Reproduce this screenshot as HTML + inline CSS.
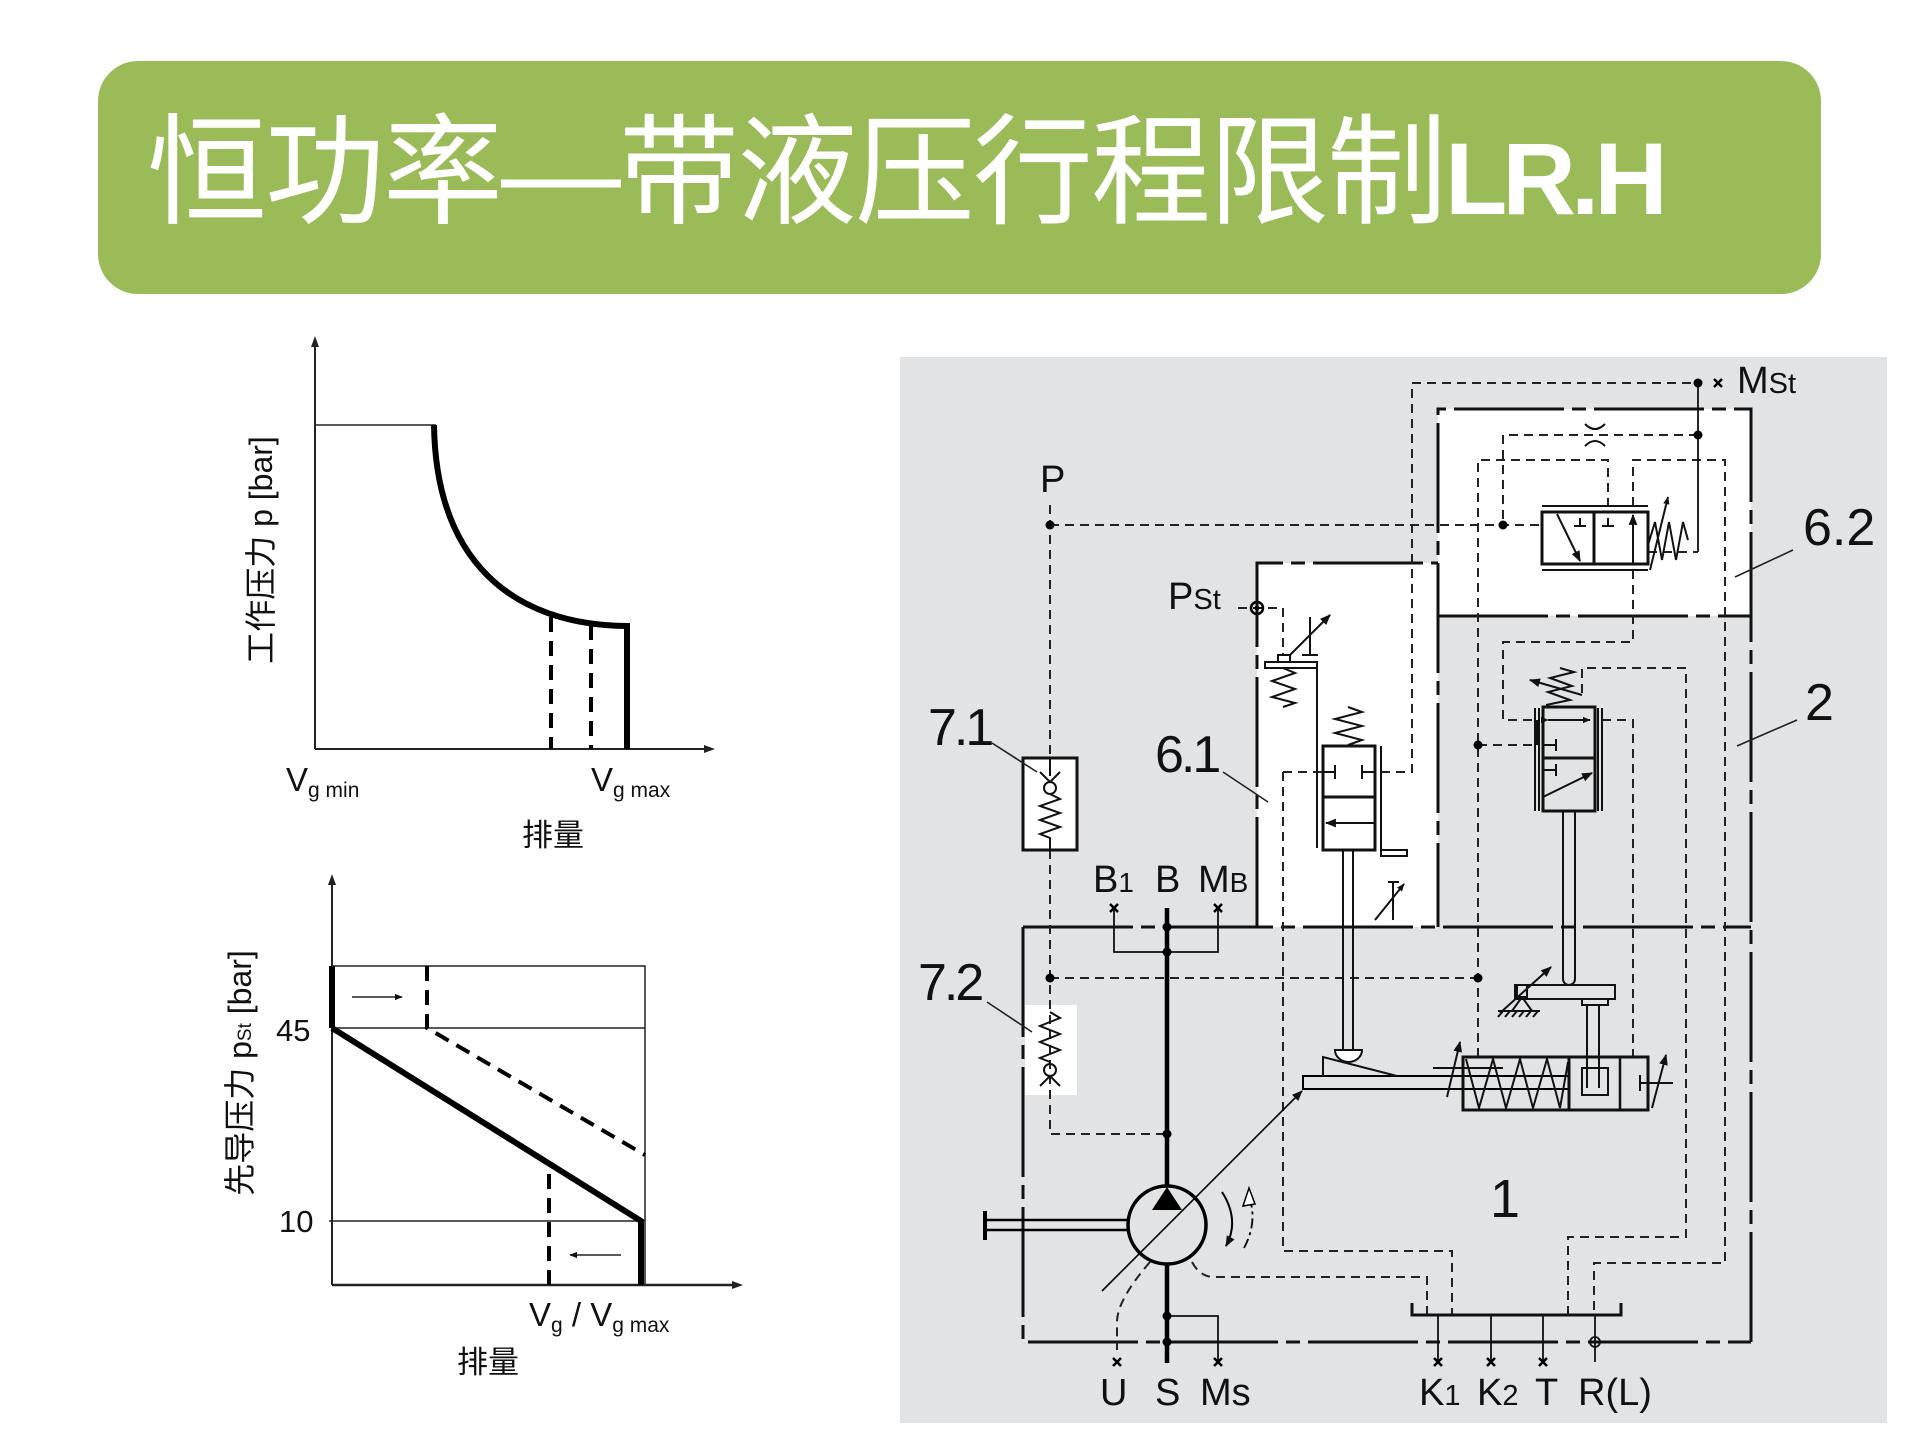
<!DOCTYPE html>
<html><head><meta charset="utf-8"><style>
html,body{margin:0;padding:0;background:#fff;}
body{width:1920px;height:1440px;position:relative;overflow:hidden;}
.tb{position:absolute;left:98px;top:61px;width:1723px;height:233px;background:#9bbb59;border-radius:40px;}
.tt{position:absolute;left:147px;top:113px;font-family:"Liberation Sans","Noto Sans CJK SC",sans-serif;font-size:120px;line-height:1;color:#fff;letter-spacing:-2px;white-space:nowrap;}
.tt span{font-size:102px;letter-spacing:-5px;font-weight:bold;}
svg text{font-family:"Liberation Sans","Noto Sans CJK SC",sans-serif;fill:#111;}
</style></head><body>
<div class="tb"></div>
<div class="tt">恒功率—带液压行程限制<span>LR.H</span></div>
<svg width="1920" height="1440" style="position:absolute;left:0;top:0" xmlns="http://www.w3.org/2000/svg">
<defs>
<marker id="ah" viewBox="0 0 10 10" refX="9" refY="5" markerWidth="11" markerHeight="11" markerUnits="userSpaceOnUse" orient="auto"><path d="M0,1 L10,5 L0,9z" fill="#111"/></marker>
<marker id="ahs" viewBox="0 0 10 10" refX="9" refY="5" markerWidth="8" markerHeight="8" markerUnits="userSpaceOnUse" orient="auto"><path d="M0,1 L10,5 L0,9z" fill="#111"/></marker>
</defs>

<!-- ===== Chart 1 ===== -->
<g stroke="#222" fill="none">
<line x1="315" y1="345" x2="315" y2="749" stroke-width="2"/>
<path d="M315,336 L311,347 L319,347z" fill="#222" stroke="none"/>
<line x1="315" y1="749" x2="706" y2="749" stroke-width="2"/>
<path d="M715,749 L704,745 L704,753z" fill="#222" stroke="none"/>
<line x1="315" y1="425" x2="436" y2="425" stroke-width="1.5"/>
<path d="M434,425 C436,560 511,625 627,626 L627,749" stroke="#000" stroke-width="6"/>
<line x1="551" y1="617" x2="551" y2="749" stroke="#000" stroke-width="4" stroke-dasharray="15 9"/>
<line x1="591" y1="625" x2="591" y2="749" stroke="#000" stroke-width="4" stroke-dasharray="15 9"/>
</g>
<text x="286" y="791" font-size="33">V<tspan font-size="21" dy="6">g min</tspan></text>
<text x="591" y="791" font-size="33">V<tspan font-size="21" dy="6">g max</tspan></text>
<text x="522" y="846" font-size="31">排量</text>
<text transform="translate(261,550) rotate(-90)" text-anchor="middle" y="11" font-size="32">工作压力 p [bar]</text>

<!-- ===== Chart 2 ===== -->
<g stroke="#222" fill="none">
<line x1="332" y1="883" x2="332" y2="1285" stroke-width="2"/>
<path d="M332,874 L328,885 L336,885z" fill="#222" stroke="none"/>
<line x1="332" y1="1285" x2="734" y2="1285" stroke-width="2.5"/>
<path d="M743,1285 L732,1281 L732,1289z" fill="#222" stroke="none"/>
<polyline points="332,966 645,966 645,1285" stroke-width="1.5"/>
<line x1="332" y1="1028" x2="645" y2="1028" stroke-width="1.5"/>
<line x1="329" y1="1221" x2="645" y2="1221" stroke-width="1.5"/>
<line x1="332" y1="966" x2="332" y2="1028" stroke="#000" stroke-width="6"/>
<polyline points="332,1028 641,1221 641,1285" stroke="#000" stroke-width="6"/>
<polyline points="427,966 427,1028 645,1155" stroke="#000" stroke-width="4" stroke-dasharray="15 9"/>
<line x1="549" y1="1174" x2="549" y2="1285" stroke="#000" stroke-width="4" stroke-dasharray="15 9"/>
<line x1="352" y1="997" x2="402" y2="997" stroke-width="1.5" marker-end="url(#ahs)"/>
<line x1="621" y1="1255" x2="570" y2="1255" stroke-width="1.5" marker-end="url(#ahs)"/>
</g>
<text x="276" y="1041" font-size="31">45</text>
<text x="279" y="1232" font-size="31">10</text>
<text x="529" y="1326" font-size="33">V<tspan font-size="21" dy="6">g</tspan><tspan dy="-6"> / V</tspan><tspan font-size="21" dy="6">g max</tspan></text>
<text x="457" y="1373" font-size="31">排量</text>
<text transform="translate(240,1073) rotate(-90)" text-anchor="middle" y="11" font-size="32">先导压力 p<tspan font-size="19">St</tspan> [bar]</text>

<!-- ===== Schematic ===== -->
<rect x="900" y="357" width="987" height="1066" fill="#e2e3e5"/>
<rect x="1257" y="563" width="181" height="364" fill="#fff"/>
<rect x="1438" y="409" width="313" height="207" fill="#fff"/>
<rect x="1025" y="1005" width="52" height="90" fill="#fff"/>

<!-- housing lines -->
<g stroke="#111" stroke-width="3" fill="none" stroke-dasharray="110 8 14 8">
<path d="M1023,927 L1023,1342 L1751,1342"/>
<path d="M1751,1342 L1751,409 L1438,409 L1438,927"/>
<path d="M1023,927 L1751,927"/>
<path d="M1438,616 L1751,616"/>
<path d="M1257,927 L1257,563 L1438,563"/>
</g>

<!-- pilot dashed lines -->
<g stroke="#222" stroke-width="2" fill="none" stroke-dasharray="9 6">
<path d="M1050,505 V1134 H1167"/>
<path d="M1050,525 H1542"/>
<path d="M1381,772 H1412 V383 H1698"/>
<path d="M1283,772 H1323"/>
<path d="M1238,608 H1283 V657"/>
<path d="M1698,435 H1503 V525"/>
<path d="M1648,552 H1698"/>
<path d="M1478,1057 V460 H1608 V506"/>
<path d="M1633,506 V460 H1725 V1263 H1594 V1315"/>
<path d="M1633,570 V642 H1503 V720 H1535"/>
<path d="M1602,720 H1633 V1057"/>
<path d="M1582,693 V668 H1686 V1237 H1568 V1315"/>
<path d="M1283,772 V1251 H1452 V1315"/>
<path d="M1192,1262 Q1200,1277 1214,1277 H1427 V1315"/>
<path d="M1050,978 H1478"/>
<path d="M1478,745 H1535"/>
<path d="M1150,1262 Q1117,1300 1117,1322 V1350"/>
</g>

<!-- 7.1 box -->
<rect x="1023" y="758" width="54" height="92" fill="#fff" stroke="#111" stroke-width="3"/>
<g stroke="#111" stroke-width="2" fill="none">
<line x1="1050" y1="758" x2="1050" y2="776"/>
<path d="M1040,772 L1050,782 L1060,772"/>
<circle cx="1050" cy="788" r="6"/>
<polyline points="1050,794 1060,799 1040,806 1060,813 1040,820 1060,827 1040,834 1050,838 1050,850"/>
<!-- 7.2 -->
<polyline points="1050,1012 1060,1018 1040,1026 1060,1034 1040,1042 1060,1050 1040,1058 1050,1062"/>
<circle cx="1050" cy="1070" r="6"/>
<path d="M1040,1086 L1050,1076 L1060,1086"/>
</g>

<!-- thin solid lines -->
<g stroke="#111" stroke-width="1.8" fill="none">
<path d="M1698,383 V552"/>
<path d="M1114,908 V952 H1218 V908"/>
<path d="M1167,1316 H1218 V1362"/>
<path d="M1438,1315 V1362 M1491,1315 V1362 M1543,1315 V1362 M1595,1315 V1362"/>
<circle cx="1595" cy="1342" r="5"/>
<path d="M1412,1303 V1315 H1621 V1303" stroke-width="3"/>
</g>

<!-- main B/S line & pump -->
<g stroke="#000" fill="none">
<path d="M1167,908 V1186 M1167,1264 V1363" stroke-width="4.5"/>
<circle cx="1167" cy="1225" r="39" stroke-width="3.5"/>
<path d="M985,1220 H1129 M985,1230 H1129" stroke-width="2.5"/>
<path d="M985,1211 V1240" stroke-width="4"/>
<line x1="1102" y1="1291" x2="1302" y2="1091" stroke-width="1.6" marker-end="url(#ah)"/>
<path d="M1303,1090 V1076 H1568 M1303,1089 H1568" stroke-width="2"/>
<path d="M1222,1192 Q1240,1220 1226,1246" stroke-width="2" marker-end="url(#ah)"/>
<path d="M1244,1248 Q1258,1222 1249,1196" stroke-width="1.8" stroke-dasharray="10 4 3 4"/>
<path d="M1249,1188 L1243,1206 L1255,1204z" fill="#fff" stroke-width="1.5"/>
</g>
<path d="M1167,1187 L1182,1210 L1152,1210z" fill="#000"/>

<!-- junction dots -->
<g fill="#000">
<circle cx="1167" cy="927" r="4.5"/><circle cx="1167" cy="952" r="4.5"/>
<circle cx="1167" cy="1134" r="4.5"/><circle cx="1167" cy="1316" r="4.5"/>
<circle cx="1167" cy="1342" r="4.5"/><circle cx="1050" cy="525" r="4.5"/>
<circle cx="1503" cy="525" r="4.5"/><circle cx="1698" cy="383" r="4.5"/>
<circle cx="1698" cy="435" r="4.5"/><circle cx="1478" cy="745" r="4.5"/>
<circle cx="1478" cy="978" r="4.5"/><circle cx="1050" cy="978" r="4.5"/>
<circle cx="1257" cy="608" r="2.5"/>
</g>
<circle cx="1257" cy="608" r="6" fill="none" stroke="#000" stroke-width="2.5"/>

<!-- x marks -->
<g stroke="#000" stroke-width="2.5">
<path d="M1110,904 l8,8 m0,-8 l-8,8"/>
<path d="M1214,904 l8,8 m0,-8 l-8,8"/>
<path d="M1113,1358 l8,8 m0,-8 l-8,8"/>
<path d="M1214,1358 l8,8 m0,-8 l-8,8"/>
<path d="M1434,1358 l8,8 m0,-8 l-8,8"/>
<path d="M1487,1358 l8,8 m0,-8 l-8,8"/>
<path d="M1539,1358 l8,8 m0,-8 l-8,8"/>
<path d="M1714,379 l8,8 m0,-8 l-8,8"/>
</g>

<!-- pressure valve (6.1 upper) -->
<g stroke="#111" fill="none" stroke-width="2">
<rect x="1265" y="662" width="52" height="6" fill="#fff"/>
<rect x="1278" y="655" width="12" height="7" fill="#fff"/>
<polyline points="1283,668 1295,673 1272,681 1295,689 1272,697 1295,703 1283,707"/>
<line x1="1290" y1="655" x2="1330" y2="615" marker-end="url(#ah)"/>
<path d="M1310,617 V655 M1302,655 H1318"/>
<line x1="1317" y1="668" x2="1317" y2="848"/>
<!-- valve 6.1 -->
<polyline points="1348,707 1362,712 1335,719 1362,726 1335,733 1362,740 1348,745"/>
<rect x="1323" y="746" width="52" height="104" stroke-width="3" fill="#fff"/>
<line x1="1323" y1="797" x2="1375" y2="797" stroke-width="3"/>
<path d="M1323,772 H1335 M1335,765 V779 M1375,772 H1362 M1362,765 V779"/>
<line x1="1375" y1="823" x2="1326" y2="823" marker-end="url(#ah)"/>
<path d="M1381,746 V853"/>
<rect x="1381" y="850" width="26" height="6"/>
<path d="M1343,850 V1050 M1353,850 V1050"/>
<path d="M1335,1050 H1362 A13.5,12 0 0 1 1335,1050z" fill="#fff"/>
<path d="M1323,1076 V1057 L1397,1076"/>
<line x1="1375" y1="920" x2="1404" y2="884" marker-end="url(#ahs)"/>
<path d="M1393,882 V920 M1388,882 H1399"/>
</g>

<!-- valve 6.2 -->
<g stroke="#111" fill="none" stroke-width="2">
<rect x="1542" y="512" width="106" height="52" stroke-width="3" fill="#fff"/>
<line x1="1594" y1="512" x2="1594" y2="564" stroke-width="3"/>
<path d="M1542,506 H1648 M1542,570 H1648"/>
<line x1="1557" y1="514" x2="1580" y2="561" marker-end="url(#ah)"/>
<path d="M1580,518 V526 M1574,526 H1586 M1608,518 V526 M1602,526 H1614"/>
<line x1="1633" y1="563" x2="1633" y2="515" marker-end="url(#ah)"/>
<polyline points="1648,545 1655,522 1662,560 1669,522 1676,560 1683,522 1688,540"/>
<line x1="1650" y1="570" x2="1668" y2="497" marker-end="url(#ahs)"/>
<path d="M1585,424 Q1595,434 1605,424 M1585,446 Q1595,436 1605,446"/>
</g>

<!-- valve 2 (lower) -->
<g stroke="#111" fill="none" stroke-width="2">
<polyline points="1546,705 1570,700 1548,692 1572,686 1550,678 1574,672 1560,668"/>
<line x1="1582" y1="695" x2="1530" y2="680" marker-end="url(#ah)"/>
<rect x="1543" y="707" width="52" height="104" stroke-width="3" fill="#e2e3e5"/>
<line x1="1543" y1="758" x2="1595" y2="758" stroke-width="3"/>
<line x1="1548" y1="720" x2="1590" y2="720" marker-start="url(#ahs)" marker-end="url(#ahs)"/>
<path d="M1543,745 H1556 M1556,739 V751 M1543,770 H1556 M1556,764 V776"/>
<line x1="1543" y1="797" x2="1592" y2="773" marker-end="url(#ah)"/>
<path d="M1535,708 V811 M1539,708 V811 M1598,708 V811 M1602,708 V811"/>
<path d="M1538,720 V745" stroke-width="4"/>
<path d="M1563,811 V979 A6,6 0 0 0 1575,979 V811"/>
<rect x="1515" y="985" width="100" height="14" fill="#e2e3e5"/>
<rect x="1582" y="999" width="26" height="6"/>
<path d="M1587,1005 V1088 M1599,1005 V1088"/>
<rect x="1582" y="1068" width="26" height="27"/>
<rect x="1517" y="985" width="10" height="12"/>
<path d="M1522,997 L1512,1011 M1522,997 L1532,1011"/>
<path d="M1498,1011 H1540 M1503,1011 l-5,6 M1510,1011 l-5,6 M1517,1011 l-5,6 M1524,1011 l-5,6 M1531,1011 l-5,6 M1538,1011 l-5,6"/>
<line x1="1500" y1="1013" x2="1551" y2="967" marker-end="url(#ah)"/>
</g>

<!-- cylinder -->
<g stroke="#111" fill="none" stroke-width="2">
<rect x="1463" y="1057" width="185" height="53" stroke-width="3"/>
<line x1="1569" y1="1057" x2="1569" y2="1110" stroke-width="3"/>
<line x1="1620" y1="1057" x2="1620" y2="1110" stroke-width="2.5"/>
<polyline points="1466,1059 1479,1108 1493,1059 1506,1108 1520,1059 1533,1108 1547,1059 1560,1108 1568,1062"/>
<line x1="1447" y1="1097" x2="1460" y2="1042" marker-end="url(#ah)"/>
<line x1="1433" y1="1068" x2="1503" y2="1068"/>
<path d="M1640,1075 V1091 M1640,1083 H1673"/>
<line x1="1652" y1="1108" x2="1666" y2="1055" marker-end="url(#ah)"/>
</g>

<!-- leaders -->
<g stroke="#222" stroke-width="1.6">
<line x1="992" y1="743" x2="1037" y2="772"/>
<line x1="1223" y1="772" x2="1268" y2="802"/>
<line x1="987" y1="1002" x2="1032" y2="1032"/>
<line x1="1793" y1="550" x2="1735" y2="577"/>
<line x1="1797" y1="720" x2="1737" y2="746"/>
</g>

<!-- labels -->
<g font-size="38">
<text x="1040" y="492">P</text>
<text x="1168" y="609">P<tspan font-size="29">St</tspan></text>
<text x="1737" y="393">M<tspan font-size="29">St</tspan></text>
<text x="1093" y="892">B<tspan font-size="28">1</tspan></text>
<text x="1155" y="892">B</text>
<text x="1198" y="892">M<tspan font-size="28">B</tspan></text>
<text x="1100" y="1405">U</text>
<text x="1155" y="1405">S</text>
<text x="1200" y="1405">Ms</text>
<text x="1419" y="1405">K<tspan font-size="29">1</tspan></text>
<text x="1477" y="1405">K<tspan font-size="29">2</tspan></text>
<text x="1535" y="1405">T</text>
<text x="1578" y="1405">R(L)</text>
</g>
<g font-size="52">
<text x="1803" y="545">6.2</text>
<text x="1805" y="720">2</text>
<text x="928" y="745" letter-spacing="-3">7.1</text>
<text x="1155" y="772" letter-spacing="-3">6.1</text>
<text x="918" y="1000" letter-spacing="-3">7.2</text>
<text x="1490" y="1217" font-size="54">1</text>
</g>
</svg>
</body></html>
